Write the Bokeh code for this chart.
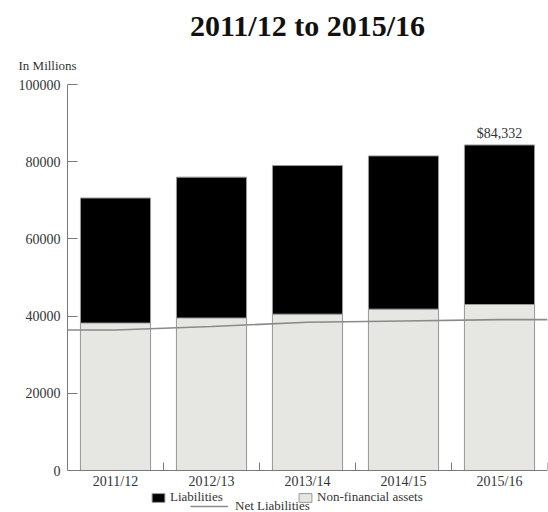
from bokeh.plotting import figure
from bokeh.models import (Range1d, FixedTicker, Legend, LegendItem, Title,
                          ColumnDataSource, CustomJSTickFormatter)
from bokeh.core.properties import value
from bokeh.embed import file_html
from bokeh.resources import INLINE

# ---- data ----
years = ["2011/12", "2012/13", "2013/14", "2014/15", "2015/16"]
liabilities = [70600, 76000, 79000, 81500, 84332]
non_financial_assets = [38200, 39500, 40500, 41800, 43000]
net_liabilities = [36400, 37300, 38400, 38750, 39100]
y_ticks = [0, 20000, 40000, 60000, 80000, 100000]

FONT = "Liberation Serif"
n = len(years)
centers = [i + 0.5 for i in range(n)]
bounds = [i + 1 for i in range(n)]

Y_MAX = 100000
Y_MIN = -10880  # room below the axis for labels and legend

p = figure(width=548, height=512, output_backend="svg", toolbar_location=None,
           x_range=Range1d(0, n), y_range=Range1d(Y_MIN, Y_MAX),
           min_border_left=67, min_border_right=1, min_border_top=84,
           min_border_bottom=0)
p.outline_line_color = None
p.xgrid.visible = False
p.ygrid.visible = False
p.background_fill_color = "white"

# title
p.title.text = "2011/12 to 2015/16"
p.title.text_font = FONT
p.title.text_font_size = "30px"
p.title.text_font_style = "bold"
p.title.text_color = "#111111"
p.title.align = "center"
p.title.standoff = 5
p.add_layout(Title(text="In Millions", align="left", offset=-49, standoff=23,
                   text_font=FONT, text_font_size="13px",
                   text_font_style="normal", text_color="#333333"), "above")

src = ColumnDataSource(dict(x=centers, liab=liabilities, nfa=non_financial_assets,
                            lbl=["$" + f"{v:,}" if i == n - 1 else "" for i, v in enumerate(liabilities)]))

bw = 0.73
r_liab = p.vbar(x="x", top="liab", bottom=0, width=bw, source=src,
                fill_color="black", line_color="#9a9a9a", line_width=1)
r_nfa = p.vbar(x="x", top="nfa", bottom=0, width=bw, source=src,
               fill_color="#e6e6e3", line_color="#9a9a9a", line_width=1)

line_x = [0] + centers + [n]
line_y = [net_liabilities[0]] + net_liabilities + [net_liabilities[-1]]
r_net = p.line(line_x, line_y, line_color="#8a8a8a", line_width=1.6)

p.text(x="x", y="liab", text="lbl", source=src, text_font=value(FONT),
       text_font_size="14px", text_color="#333333", text_align="center",
       text_baseline="bottom", y_offset=-4)

# axes
xa = p.xaxis[0]
xa.fixed_location = 0
xa.ticker = FixedTicker(ticks=centers, minor_ticks=bounds)
xa.major_label_overrides = {c: y for c, y in zip(centers, years)}
xa.major_tick_in = 0
xa.major_tick_out = 0
xa.minor_tick_in = 8
xa.minor_tick_out = 0
xa.minor_tick_line_color = "#7a7a7a"
xa.axis_line_color = "#7a7a7a"
xa.major_label_text_font = FONT
xa.major_label_text_font_size = "14px"
xa.major_label_text_color = "#333333"
xa.major_label_standoff = 3

ya = p.yaxis[0]
ya.bounds = (0, Y_MAX)
ya.ticker = FixedTicker(ticks=y_ticks)
ya.formatter = CustomJSTickFormatter(code="return String(tick);")
ya.major_tick_in = 10
ya.major_tick_out = 0
ya.minor_tick_line_color = None
ya.major_tick_line_color = "#7a7a7a"
ya.axis_line_color = "#7a7a7a"
ya.major_label_text_font = FONT
ya.major_label_text_font_size = "14px"
ya.major_label_text_color = "#333333"
ya.major_label_standoff = 7

# legends
leg1 = Legend(items=[LegendItem(label="Liabilities", renderers=[r_liab]),
                     LegendItem(label="Non-financial assets", renderers=[r_nfa])],
              orientation="horizontal", location=(83, 7),
              glyph_width=16, glyph_height=11, label_height=11, label_width=127,
              label_standoff=4, spacing=0, padding=0, margin=0,
              border_line_alpha=0, background_fill_alpha=0,
              label_text_font=FONT, label_text_font_size="13px",
              label_text_color="#333333")
leg2 = Legend(items=[LegendItem(label="Net Liabilities", renderers=[r_net])],
              orientation="horizontal", location=(123, -2),
              glyph_width=38, glyph_height=8, label_height=8,
              label_standoff=7, spacing=0, padding=0, margin=0,
              border_line_alpha=0, background_fill_alpha=0,
              label_text_font=FONT, label_text_font_size="13px",
              label_text_color="#333333")
p.add_layout(leg1)
p.add_layout(leg2)

open("out.html", "w").write(file_html(p, INLINE))
